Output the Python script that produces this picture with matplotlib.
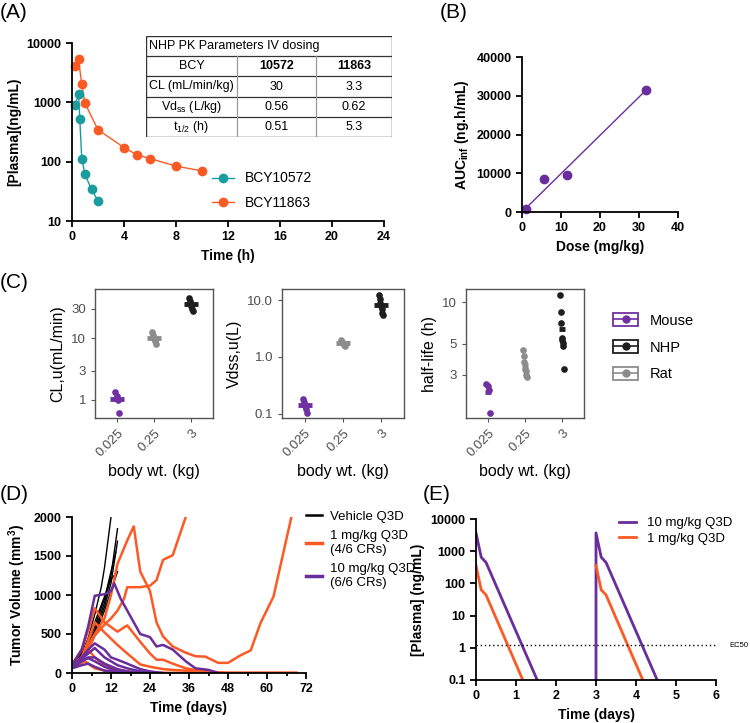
import matplotlib
matplotlib.use('Agg')
import matplotlib.pyplot as plt
import matplotlib.transforms as mtransforms
import numpy as np
from matplotlib.lines import Line2D
from matplotlib.patches import Patch, Rectangle
from matplotlib.legend_handler import HandlerTuple

plt.rcParams['font.family'] = ['Liberation Sans', 'DejaVu Sans']
plt.rcParams['mathtext.fontset'] = 'custom'
plt.rcParams['mathtext.rm'] = 'Liberation Sans'
plt.rcParams['mathtext.it'] = 'Liberation Sans:italic'
plt.rcParams['mathtext.bf'] = 'Liberation Sans:bold'

W, H = 750, 723

# (A) NHP PK, IV dosing
t_10572 = [0.25, 0.5, 0.6, 0.75, 1, 1.5, 2]
c_10572 = [900, 1380, 530, 113, 61, 34, 22]
t_11863 = [0.2, 0.5, 0.75, 1, 2, 4, 5, 6, 8, 10]
c_11863 = [4040, 5370, 2000, 960, 345, 173, 130, 113, 84, 70]

tbl_title = 'NHP PK Parameters IV dosing'
tbl_head = ['BCY', '10572', '11863']
tbl_rows = [['CL (mL/min/kg)', '30', '3.3'],
            ['Vd$_{\\mathrm{ss}}$ (L/kg)', '0.56', '0.62'],
            ['t$_{\\mathrm{1/2}}$ (h)', '0.51', '5.3']]

# (B) dose proportionality
dose = [1, 5.6, 11.6, 31.8]
auc = [800, 8600, 9600, 31600]

# (C) allometry
species = ['Mouse', 'Rat', 'NHP']
body_wt = ['0.025', '0.25', '3']
cl_u = [[1.35, 1.15, 1.0, 0.62],
        [12.5, 11.5, 10.5, 10, 9.5, 9, 8.2],
        [45, 40, 36, 33, 30, 28]]
vdss_u = [[0.18, 0.16, 0.14, 0.12, 0.105],
          [1.95, 1.85, 1.75, 1.65, 1.55],
          [12.2, 10.5, 9, 8, 7, 6, 5.5]]
half_life = [[2.6, 2.5, 2.35, 1.6],
             [4.5, 4.1, 3.7, 3.3, 3.2, 3.0, 2.9],
             [11.2, 8.5, 7.1, 5.5, 5.3, 5.1, 4.8, 3.3]]

# (D) tumour growth, one list per animal
veh_days = [[0, 3, 5, 7, 9, 10, 12],
            [0, 3, 5, 7, 10, 12, 14],
            [0, 3, 5, 7, 10, 12, 14],
            [0, 3, 5, 7, 10, 12, 13.5],
            [0, 3, 5, 7, 10, 12, 14],
            [0, 3, 5, 7, 10, 12, 13]]
veh_vol = [[100, 250, 450, 750, 1100, 1350, 2000],
           [90, 200, 350, 550, 900, 1250, 1850],
           [80, 180, 320, 520, 850, 1150, 1690],
           [110, 220, 400, 600, 950, 1300, 1550],
           [70, 160, 300, 480, 800, 1050, 1300],
           [120, 260, 430, 650, 980, 1200, 1250]]
lo_days = [[0, 3, 5, 7, 10, 12, 14, 17, 19, 21, 24, 26, 28, 31, 35, 38, 41, 45, 48, 52, 55, 58, 62, 67.5],
           [0, 3, 5, 7, 10, 12, 14, 16, 17, 21, 24, 26, 28, 31, 35],
           [0, 3, 5, 7, 10, 14, 17, 21, 24, 26, 28, 31, 35, 38, 42, 48, 69],
           [0, 3, 5, 7, 10, 14, 17, 21, 24, 28, 31, 35, 42, 48, 69],
           [0, 3, 4, 7, 10, 14, 21, 28, 69],
           [0, 3, 5, 7, 10, 14, 21, 69]]
lo_vol = [[100, 200, 350, 500, 700, 1000, 1400, 1700, 1880, 1300, 1050, 650, 470, 340, 260, 215, 210, 130, 130, 230, 290, 640, 980, 2000],
          [90, 180, 300, 480, 620, 700, 800, 950, 1100, 1100, 1120, 1190, 1450, 1510, 2000],
          [110, 300, 550, 830, 650, 530, 610, 400, 250, 170, 170, 120, 60, 40, 20, 0, 0],
          [100, 200, 420, 650, 520, 360, 250, 110, 80, 50, 40, 30, 10, 0, 0],
          [80, 130, 150, 60, 30, 10, 0, 0, 0],
          [100, 200, 300, 200, 100, 40, 0, 0]]
hi_days = [[0, 3, 5, 7, 10, 12, 13, 15, 17, 19, 21, 24, 26, 28, 31, 35, 38, 42, 45],
           [0, 3, 5, 7, 10, 12, 14, 17, 21, 24, 28],
           [0, 3, 5, 7, 10, 14, 17, 21, 24],
           [0, 3, 5, 7, 10, 14, 17, 21],
           [0, 3, 5, 7, 10, 14, 21],
           [0, 3, 5, 7, 10, 14, 21]]
hi_vol = [[100, 300, 600, 990, 1010, 1050, 1150, 950, 800, 650, 500, 460, 340, 360, 300, 150, 60, 40, 0],
          [80, 200, 300, 380, 300, 200, 170, 120, 50, 20, 0],
          [90, 180, 250, 320, 200, 100, 60, 20, 0],
          [70, 150, 200, 200, 120, 50, 20, 0],
          [100, 160, 190, 150, 80, 20, 0],
          [60, 100, 120, 80, 30, 10, 0]]

# (E) simulated plasma levels, Q3D
sim_t_hi = [0, 0.13, 0.25, 1.53, np.nan, 3.0, 3.0, 3.13, 3.25, 4.53]
sim_c_hi = [3700, 650, 450, 0.1, np.nan, 0.1, 3700, 650, 450, 0.1]
sim_t_lo = [0, 0.13, 0.25, 1.17, np.nan, 3.0, 3.13, 3.25, 4.17]
sim_c_lo = [360, 63, 44, 0.1, np.nan, 360, 63, 44, 0.1]
ec50 = 1.2

teal = '#1a9c9f'
orange = '#fb5a25'
purple = '#6a2d9c'
sp_colors = {'Mouse': '#7030a0', 'Rat': '#8c8c8c', 'NHP': '#1e1e1e'}


def box(l, t, r, b):
    return [l / W, 1 - b / H, (r - l) / W, (b - t) / H]


def prism(ax):
    for s in ['top', 'right']:
        ax.spines[s].set_visible(False)
    for s in ['left', 'bottom']:
        ax.spines[s].set_linewidth(1.3)
    ax.tick_params(direction='out', length=4, width=1.3, labelsize=9)
    for lab in ax.get_xticklabels() + ax.get_yticklabels():
        lab.set_fontweight('bold')


fig = plt.figure(figsize=(W / 100, H / 100), dpi=100)

# ---------------- (A)
axA = fig.add_axes(box(72, 43, 384, 221))
axA.plot(t_11863, c_11863, '-o', color=orange, ms=6, lw=1, label='BCY11863', clip_on=False)
axA.plot(t_10572, c_10572, '-o', color=teal, ms=6, lw=1, label='BCY10572', clip_on=False)
axA.set_yscale('log')
axA.set_xlim(0, 24)
axA.set_ylim(10, 10000)
axA.set_xticks(range(0, 25, 4))
axA.set_yticks([10, 100, 1000, 10000])
axA.set_yticklabels(['10', '100', '1000', '10000'])
axA.yaxis.set_minor_locator(matplotlib.ticker.NullLocator())
axA.set_xlabel('Time (h)', fontsize=10, fontweight='bold')
axA.set_ylabel('[Plasma](ng/mL)', fontsize=10, fontweight='bold')
prism(axA)
h, l = axA.get_legend_handles_labels()
axA.legend(h[::-1], l[::-1], loc='upper left', bbox_to_anchor=(0.43, 0.31), frameon=False,
           fontsize=10, handlelength=1.6, labelspacing=0.75, borderaxespad=0)

# table
axT = fig.add_axes(box(146, 36, 392, 137))
axT.set_xlim(0, 1)
axT.set_ylim(0, 1)
axT.axis('off')
cols = [0, 0.37, 0.691, 1]
rows = np.linspace(1, 0, 6)
axT.add_patch(Rectangle((0, 0), 1, 1, fill=False, lw=1, ec='#333333'))
for y in rows[1:-1]:
    axT.plot([0, 1], [y, y], color='#333333', lw=0.9)
for x in cols[1:-1]:
    axT.plot([x, x], [0, rows[1]], color='#999999', lw=0.9)
axT.text(0.012, (rows[0] + rows[1]) / 2, tbl_title, fontsize=9, ha='left', va='center')
for r, row in enumerate([tbl_head] + tbl_rows):
    yc = (rows[r + 1] + rows[r + 2]) / 2
    for c, txt in enumerate(row):
        bold = (r == 0 and c > 0)
        axT.text((cols[c] + cols[c + 1]) / 2, yc, txt, fontsize=9, ha='center', va='center',
                 fontweight='bold' if bold else 'normal')

# ---------------- (B)
axB = fig.add_axes(box(522, 57, 678, 212))
k = np.dot(dose, auc) / np.dot(dose, dose)
xf = np.array([min(dose), max(dose)])
axB.plot(xf, k * xf, color=purple, lw=1)
axB.plot(dose, auc, 'o', color=purple, ms=6, clip_on=False)
axB.set_xlim(0, 40)
axB.set_ylim(0, 40000)
axB.set_xticks(range(0, 41, 10))
axB.set_yticks(range(0, 40001, 10000))
axB.set_xlabel('Dose (mg/kg)', fontsize=10, fontweight='bold')
axB.set_ylabel('AUC$_{\\mathbf{inf}}$ (ng.h/mL)', fontsize=10, fontweight='bold')
prism(axB)

# ---------------- (C)
c_boxes = [(95, 213), (282, 404), (466, 584)]
c_vals = [cl_u, vdss_u, half_life]
c_ylabels = ['CL,u(mL/min)', 'Vdss,u(L)', 'half-life (h)']
c_yticks = [([1, 3, 10, 30], ['1', '3', '10', '30']),
            ([0.1, 1, 10], ['0.1', '1.0', '10.0']),
            ([3, 5, 10], ['3', '5', '10'])]
c_ylims = [(0.51, 63), (0.085, 15.6), (1.47, 12.4)]
c_barw = [10, 10, 5]
for (l, r), vals, yl, (tk, tl), lim, bw in zip(c_boxes, c_vals, c_ylabels, c_yticks, c_ylims, c_barw):
    ax = fig.add_axes(box(l, 289, r, 418))
    for i, sp in enumerate(species):
        v = np.array(vals[i])
        xo = i + 1 + np.linspace(-0.05, 0.05, len(v))
        ax.plot(xo, v, 'o', color=sp_colors[sp], ms=4.8, mec='none')
        ax.plot([i + 1], [np.mean(v)], marker='_', color=sp_colors[sp], ms=bw, mew=3.5)
    ax.set_yscale('log')
    ax.set_ylim(*lim)
    ax.set_xlim(0.4, 3.6)
    ax.set_yticks(tk)
    ax.set_yticklabels(tl)
    ax.yaxis.set_minor_locator(matplotlib.ticker.NullLocator())
    ax.yaxis.set_minor_formatter(matplotlib.ticker.NullFormatter())
    ax.set_xticks([1, 2, 3])
    ax.set_xticklabels(body_wt, rotation=45, ha='right', rotation_mode='anchor')
    for s in ax.spines.values():
        s.set_color('#555555')
        s.set_linewidth(1)
    ax.tick_params(colors='#555555', labelcolor='#4d4d4d', labelsize=9.5, length=3)
    ax.set_ylabel(yl, fontsize=11.5)
    ax.set_xlabel('body wt. (kg)', fontsize=11.5)

leg_sp = ['Mouse', 'NHP', 'Rat']
handles = [(Patch(facecolor='none', edgecolor=sp_colors[s], lw=1.3),
            Line2D([], [], color=sp_colors[s], marker='o', ms=5, lw=1.2)) for s in leg_sp]
fig.legend(handles, leg_sp, handler_map={tuple: HandlerTuple(ndivide=1)}, loc='upper left',
           bbox_to_anchor=(600 / W, 1 - 300 / H), frameon=False, fontsize=10.5,
           handlelength=1.7, handleheight=1.0, labelspacing=0.85)

# ---------------- (D)
axD = fig.add_axes(box(72, 517, 306, 673))
for d, v in zip(veh_days, veh_vol):
    axD.plot(d, v, color='black', lw=1)
for d, v in zip(lo_days, lo_vol):
    axD.plot(d, v, color=orange, lw=1.8)
for d, v in zip(hi_days, hi_vol):
    axD.plot(d, v, color=purple, lw=1.8)
axD.set_xlim(0, 72)
axD.set_ylim(0, 2000)
axD.set_xticks(range(0, 73, 12))
axD.set_xticks(range(6, 72, 12), minor=True)
axD.tick_params(which='minor', length=2.5, width=1.3)
axD.set_yticks(range(0, 2001, 500))
axD.set_xlabel('Time (days)', fontsize=10, fontweight='bold')
axD.set_ylabel('Tumor Volume (mm$^{\\mathbf{3}}$)', fontsize=10, fontweight='bold')
prism(axD)
d_handles = [Line2D([], [], color='black', lw=1.8), Line2D([], [], color=orange, lw=2.5),
             Line2D([], [], color=purple, lw=2.5)]
axD.legend(d_handles, ['Vehicle Q3D', '1 mg/kg Q3D\n(4/6 CRs)', '10 mg/kg Q3D\n(6/6 CRs)'],
           loc='upper left', bbox_to_anchor=(1.0, 1.04), frameon=False, fontsize=9.5,
           handlelength=1.2, labelspacing=0.55, handletextpad=0.6, borderaxespad=0, borderpad=0)

# ---------------- (E)
axE = fig.add_axes(box(476, 519, 716, 680))
axE.plot(sim_t_hi, sim_c_hi, color=purple, lw=2, label='10 mg/kg Q3D')
axE.plot(sim_t_lo, sim_c_lo, color=orange, lw=2, label='1 mg/kg Q3D')
axE.axhline(ec50, color='black', lw=1, ls=(0, (1, 2)))
axE.set_yscale('log')
axE.set_xlim(0, 6)
axE.set_ylim(0.1, 10000)
axE.set_xticks(range(0, 7))
axE.set_yticks([0.1, 1, 10, 100, 1000, 10000])
axE.set_yticklabels(['0.1', '1', '10', '100', '1000', '10000'])
axE.yaxis.set_minor_locator(matplotlib.ticker.NullLocator())
axE.set_xlabel('Time (days)', fontsize=10, fontweight='bold')
axE.set_ylabel('[Plasma] (ng/mL)', fontsize=10, fontweight='bold')
prism(axE)
ec_tr = mtransforms.blended_transform_factory(fig.transFigure, axE.transData)
axE.text(748 / W, ec50, 'EC50', transform=ec_tr, fontsize=5.5, va='center', ha='right')
axE.legend(loc='upper right', bbox_to_anchor=(1.09, 1.045), frameon=False, fontsize=9.5,
           handlelength=1.3, labelspacing=0.25, borderaxespad=0)

# panel letters
for lab, x, y in [('(A)', 0, 12), ('(B)', 440, 12), ('(C)', 0, 283), ('(D)', 0, 494), ('(E)', 423, 494)]:
    fig.text(x / W, 1 - y / H, lab, fontsize=15, va='center', ha='left')

fig.savefig('out.png', dpi=100)
